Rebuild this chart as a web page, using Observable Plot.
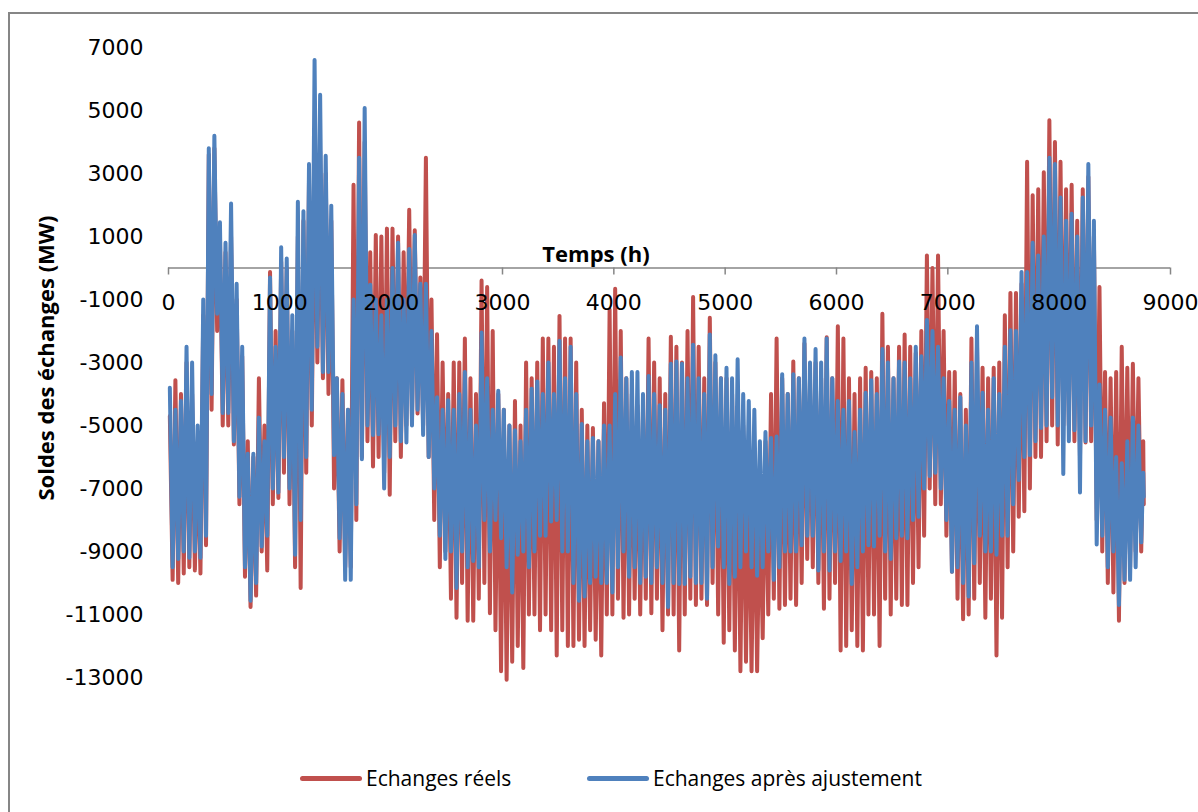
<!DOCTYPE html>
<html><head><meta charset="utf-8">
<script src="https://cdn.jsdelivr.net/npm/d3@7"></script>
<script src="https://cdn.jsdelivr.net/npm/@observablehq/plot@0.6"></script>
<style>
body{margin:0;background:#fff;width:1198px;height:812px;overflow:hidden;position:relative;}
#frame{position:absolute;left:8px;top:12px;width:1210px;height:820px;border:2px solid #868686;box-sizing:border-box;}
#chart{position:absolute;left:0;top:0;}
#ytitle{position:absolute;left:45px;top:358px;transform:translate(-50%,-50%) rotate(-90deg);font:bold 22px "Open Sans", sans-serif;white-space:nowrap;}
#xtitle{position:absolute;left:596px;top:253px;transform:translate(-50%,-50%);font:bold 22px "Open Sans", sans-serif;white-space:nowrap;}
.leg{position:absolute;top:778px;transform:translateY(-50%);font:21px "Open Sans", sans-serif;white-space:nowrap;display:flex;align-items:center;}
.sw{display:inline-block;width:62px;height:5px;border-radius:3px;margin-right:4px;}
</style>
</head><body>
<div id="frame"></div>
<div id="chart"></div>
<div id="xtitle">Temps (h)</div>
<div id="ytitle">Soldes des échanges (MW)</div>
<div class="leg" style="left:300px"><span class="sw" style="background:#C0504D"></span>Echanges réels</div>
<div class="leg" style="left:587px"><span class="sw" style="background:#4F81BD"></span>Echanges après ajustement</div>
<script>
// 50-hour bins; for each bin the highest and lowest value
const binStart = d3.range(0, 8760, 50);
const xTicks = [0, 1000, 2000, 3000, 4000, 5000, 6000, 7000, 8000, 9000];
const yTicks = [7000, 5000, 3000, 1000, -1000, -3000, -5000, -7000, -9000, -11000, -13000];

const blueHigh = [-3800,-4500,-4220,-2500,-3000,-5000,-1000,3800,4200,1450,
  800,2050,-500,-2500,-5900,-5900,-4750,-5500,-300,-2500,
  660,300,-1500,2100,1800,3300,6600,5500,3560,1980,
  -3500,-4000,-4500,-1000,3500,5080,-530,-1000,-1500,-1000,
  0,800,-1000,600,1050,-500,-500,-2000,-4100,-4500,
  -4200,-4500,-4000,-3300,-4500,-5000,-2050,-3500,-4500,-3900,
  -4500,-5000,-5150,-5500,-4500,-3830,-3600,-4000,-3000,-4000,
  -2310,-3500,-2500,-4000,-4950,-5500,-5400,-5500,-5000,-5000,
  -4000,-2840,-3500,-3300,-3300,-4000,-3430,-4000,-4360,-4500,
  -3040,-2970,-3040,-3500,-2440,-3500,-4000,-2110,-2770,-3500,
  -3170,-3500,-2900,-4000,-4220,-4500,-5500,-5210,-5400,-5350,
  -3370,-4000,-3370,-3500,-2240,-3000,-2570,-3000,-2240,-3500,
  -4220,-4500,-4220,-5210,-4500,-3960,-3560,-4000,-2570,-3000,
  -3500,-2970,-3000,-3500,-2500,-2800,-1650,-2000,-2500,-3500,
  -4220,-4500,-4100,-5000,-3000,-1850,-3960,-4500,-3500,-4000,
  -2500,-1980,-2000,-130,-130,800,400,1000,3500,3300,
  2240,1500,1720,1000,2240,3300,1500,-3700,-4500,-4750,
  -6000,-6200,-5500,-4750,-5000,-6500];
const blueLow = [-9500,-9240,-9000,-9200,-9000,-9200,-8500,-4000,-1450,-4600,
  -4600,-5500,-7260,-9500,-10560,-10000,-8840,-8500,-7000,-7130,
  -6000,-7000,-9100,-8000,-6000,-4500,-2500,-3300,-3300,-5940,
  -8580,-9900,-9900,-7500,-6070,-5000,-5300,-5280,-7000,-6000,
  -5000,-5500,-5540,-5000,-4500,-5300,-6000,-7000,-8500,-9240,
  -9000,-10160,-9000,-9500,-9300,-9500,-8000,-9000,-8000,-8580,
  -9500,-10300,-9100,-9000,-9500,-9000,-8500,-8500,-8050,-8000,
  -9000,-9000,-10000,-10560,-10430,-10000,-9800,-10000,-10000,-10300,
  -9500,-9000,-9800,-9500,-10000,-9800,-10000,-9500,-10000,-10760,
  -10000,-10030,-10030,-9800,-10000,-10000,-10500,-9500,-8840,-9500,
  -10030,-9800,-9500,-9000,-9500,-9770,-9500,-9000,-9900,-9500,
  -9000,-9000,-9000,-8800,-8500,-8500,-9600,-9000,-9600,-9000,
  -9300,-9000,-10030,-9500,-9000,-8800,-8840,-8500,-9000,-9240,
  -8580,-8500,-8580,-8000,-7900,-7000,-6600,-6500,-7000,-8000,
  -9640,-9500,-10000,-10430,-9370,-8500,-9000,-9000,-9100,-8500,
  -8500,-7500,-6730,-6000,-5940,-5500,-5080,-5000,-4100,-5000,
  -6540,-5500,-5150,-7130,-5500,-5000,-8780,-8500,-9500,-9000,
  -10700,-9900,-9900,-9500,-8710,-7260];
const redHigh = [-4700,-3560,-4000,-3000,-4000,-5500,-1500,3600,3800,1000,
  500,1000,-1000,-2800,-5500,-6000,-3500,-5000,-130,-2000,
  200,0,-2000,1000,1500,2800,4000,3700,3000,1500,
  -3500,-3560,-4500,2640,4620,4000,500,1050,1000,1250,
  1250,1000,500,1850,1200,-300,3500,-1000,-2100,-3000,
  -4000,-3000,-3000,-2240,-3500,-4000,-400,-600,-2000,-4000,
  -4500,-5000,-4220,-5000,-3000,-3500,-3000,-2240,-2240,-2500,
  -1520,-2240,-2240,-3000,-4500,-5000,-5080,-5500,-4290,-1320,
  -660,-2000,-3500,-4000,-4360,-4500,-2240,-3000,-3500,-4000,
  -2180,-2500,-3000,-2000,-920,-2500,-3500,-1580,-3000,-3500,
  -3500,-4000,-4500,-5000,-6000,-6000,-7000,-5500,-4000,-2240,
  -3500,-4000,-2970,-3500,-2400,-3500,-3000,-3500,-2200,-3500,
  -1850,-2240,-3500,-4000,-3500,-3170,-3300,-3500,-1450,-2500,
  -3500,-2500,-2110,-2500,-2700,-2000,400,0,400,-2000,
  -3300,-3300,-4000,-4500,-2240,-2500,-3170,-3500,-3170,-3000,
  -1500,-790,-790,-500,3370,2310,2500,3040,4690,4000,
  3370,2500,2640,1500,2500,2900,1000,-600,-3300,-3500,
  -3300,-2500,-3170,-3040,-3500,-5500];
const redLow = [-9900,-10000,-9700,-9500,-9600,-9700,-8800,-4500,-2000,-5000,
  -5000,-5600,-7500,-9800,-10760,-10400,-9000,-9600,-7500,-7300,
  -6500,-7500,-9500,-10160,-6500,-5000,-3000,-3500,-4000,-7000,
  -9000,-9500,-9500,-8000,-6000,-5500,-6300,-6000,-6500,-7200,
  -5500,-6000,-5000,-4800,-4620,-5000,-6000,-8000,-9500,-9000,
  -10500,-11100,-10000,-11200,-11200,-10500,-10000,-10960,-11500,-12800,
  -13070,-12500,-12000,-12700,-11000,-11000,-11500,-11000,-11500,-12300,
  -11500,-12000,-12000,-11800,-12000,-11500,-11800,-12300,-11000,-11000,
  -10500,-11100,-11000,-10500,-11000,-10500,-10960,-10500,-11500,-11000,
  -11000,-12140,-11000,-10500,-10700,-10500,-10700,-10000,-11000,-11900,
  -11500,-12140,-12800,-12500,-12800,-12800,-11750,-11000,-10500,-10820,
  -10700,-10500,-10700,-10000,-9240,-9500,-10000,-10820,-10500,-10000,
  -12140,-12000,-11500,-12000,-12140,-11000,-11000,-12000,-10500,-11000,
  -10500,-10700,-10700,-10000,-9500,-8500,-7000,-7500,-7500,-8500,
  -9640,-10500,-11150,-11000,-10500,-10000,-11100,-10500,-12300,-11100,
  -9500,-9000,-7900,-7720,-7000,-6000,-6000,-5500,-5000,-5600,
  -5000,-5000,-5500,-6000,-5540,-5500,-8000,-9000,-10000,-10300,
  -11200,-10000,-9500,-9000,-9000,-7500];

function toPoints(hi, lo) {
  const pts = [];
  binStart.forEach((h, i) => {
    pts.push({h: Math.min(h + 12, 8755), v: hi[i]});
    pts.push({h: Math.min(h + 37, 8760), v: lo[i]});
  });
  return pts;
}
const redPts = toPoints(redHigh, redLow);
const bluePts = toPoints(blueHigh, blueLow);

const chart = Plot.plot({
  width: 1198, height: 740,
  marginLeft: 168, marginRight: 28, marginTop: 47, marginBottom: 63,
  style: {fontFamily: "DejaVu Sans", fontSize: "22px", color: "#000", background: "transparent"},
  x: {domain: [0, 9000], axis: null},
  y: {domain: [-13000, 7000], axis: null},
  marks: [
    Plot.axisY(yTicks, {tickSize: 0, tickPadding: 25, label: null, fontSize: 22, tickFormat: d => String(d)}),
    Plot.ruleY([0], {stroke: "#868686", strokeWidth: 1.5}),
    Plot.ruleX(xTicks, {x: d => d, y1: 0, y2: 0, insetBottom: -7, stroke: "#868686", strokeWidth: 1.5}),
    Plot.lineY(redPts, {x: "h", y: "v", stroke: "#C0504D", strokeWidth: 4, strokeLinejoin: "round", strokeLinecap: "round"}),
    Plot.lineY(bluePts, {x: "h", y: "v", stroke: "#4F81BD", strokeWidth: 4, strokeLinejoin: "round", strokeLinecap: "round"}),
    Plot.text(xTicks, {x: d => d, y: 0, dy: 35, text: d => String(d), fontSize: 22, fill: "#000"})
  ]
});
document.getElementById("chart").appendChild(chart);
</script>
</body></html>
